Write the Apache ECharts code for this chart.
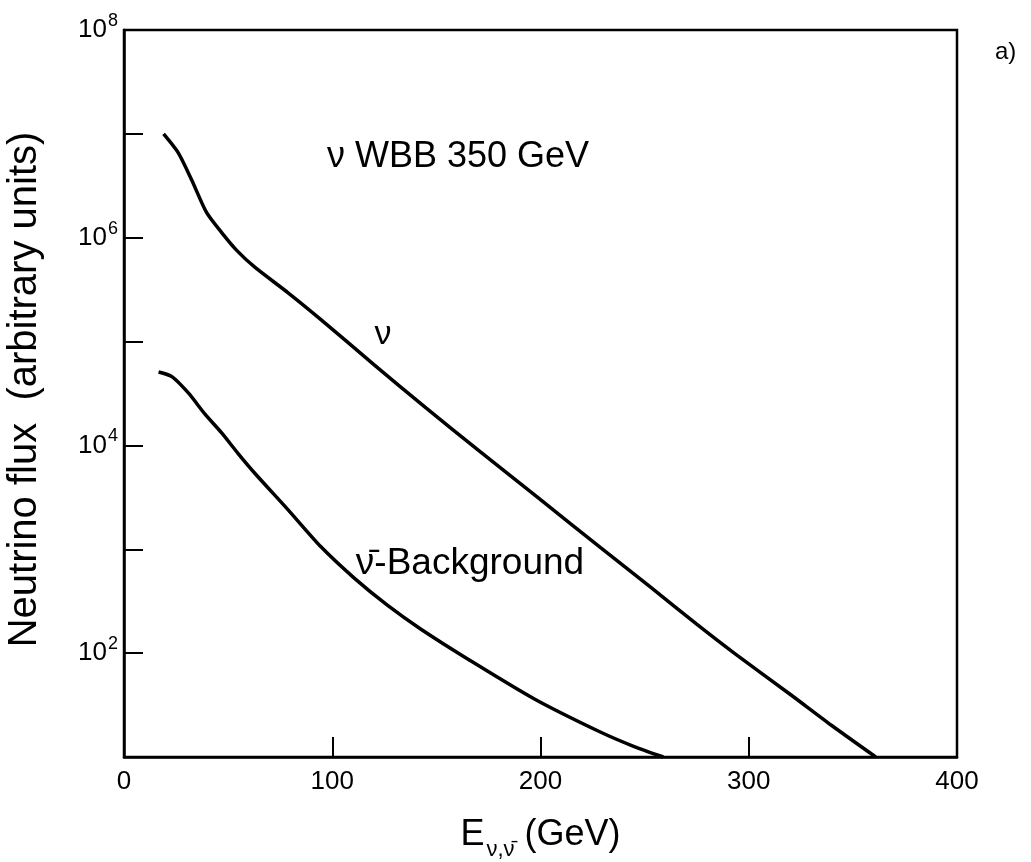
<!DOCTYPE html>
<html>
<head>
<meta charset="utf-8">
<script src="https://cdn.jsdelivr.net/npm/echarts@6/dist/echarts.min.js"></script>
<style>
html,body{margin:0;padding:0;background:#fff;}
#c{width:1031px;height:862px;}
</style>
</head>
<body>
<div id="c"></div>
<script>
// Neutrino (ν) flux, WBB 350 GeV
const nuEnergy = [19, 26, 32.5, 39.7, 46.9, 54, 62.8, 78.8, 94.7, 120, 145, 171, 200, 229, 253, 275, 293, 320, 340, 361];
const nuFlux   = [1.0e7, 6.6e6, 3.6e6, 1.74e6, 1.12e6, 7.6e5, 5.2e5, 2.95e5, 1.62e5, 6.0e4, 2.3e4, 8.7e3, 3.0e3, 1.03e3, 430, 190, 100, 40, 20, 10];
// Anti-neutrino background
const bgEnergy = [16.6, 23, 30.9, 38.9, 46.9, 54.9, 62.8, 78.8, 94.7, 110.7, 126.6, 142.6, 165.4, 197.3, 228.7, 245, 259];
const bgFlux   = [5.1e4, 4.6e4, 3.2e4, 2.0e4, 1.32e4, 8.3e3, 5.4e3, 2.4e3, 1.05e3, 525, 288, 170, 87, 36, 17.4, 12.6, 10];
// axes
const xTicks = [0, 100, 200, 300, 400];
const yLabelExponents = [2, 4, 6, 8];

const FONT = '"Liberation Sans", Arial, "DejaVu Sans", sans-serif';
const chart = echarts.init(document.getElementById('c'), null, {renderer: 'canvas'});

function pairs(xs, ys) { return xs.map((x, i) => [x, ys[i]]); }

const option = {
  backgroundColor: '#fff',
  animation: false,
  grid: {left: 124, right: 74, top: 30, bottom: 105, containLabel: false, outerBoundsMode: 'none',
         show: true, borderColor: '#000', borderWidth: 2.5, backgroundColor: 'transparent'},
  xAxis: {
    type: 'value', min: xTicks[0], max: xTicks[xTicks.length - 1], interval: 100,
    axisLine: {lineStyle: {color: '#000', width: 2.5}},
    axisTick: {inside: true, length: 20, lineStyle: {color: '#000', width: 2}},
    splitLine: {show: false},
    axisLabel: {color: '#000', fontSize: 26, fontFamily: FONT, margin: 12},
    name: '{E|E}{sub|ν,ν̄}{t| (GeV)}',
    nameLocation: 'middle', nameGap: 56,
    nameTextStyle: {
      color: '#000', fontFamily: FONT,
      rich: {
        E: {fontSize: 36, fontFamily: FONT, color: '#000', verticalAlign: 'bottom', lineHeight: 40},
        sub: {fontSize: 22, fontFamily: FONT, color: '#000', verticalAlign: 'bottom', lineHeight: 30, padding: [0, 0, -8, 2]},
        t: {fontSize: 36, fontFamily: FONT, color: '#000', verticalAlign: 'bottom', lineHeight: 40}
      }
    }
  },
  yAxis: {
    type: 'log', logBase: 10, min: 10, max: 1e8, interval: 1,
    axisLine: {lineStyle: {color: '#000', width: 2.5}},
    axisTick: {inside: true, length: 19, lineStyle: {color: '#000', width: 2}},
    minorTick: {show: false},
    splitLine: {show: false},
    axisLabel: {
      color: '#000', margin: 6, fontFamily: FONT,
      formatter: function (v) {
        const e = Math.round(Math.log10(v));
        return yLabelExponents.indexOf(e) >= 0 ? '{b|10}{s|' + e + '}' : '';
      },
      rich: {
        b: {fontSize: 26, fontFamily: FONT, color: '#000'},
        s: {fontSize: 18, fontFamily: FONT, color: '#000', padding: [0, 0, 18, 1]}
      }
    },
    name: 'Neutrino flux  (arbitrary units)',
    nameLocation: 'middle', nameGap: 79,
    nameTextStyle: {color: '#000', fontSize: 40, fontFamily: FONT, padding: [0, 0, 0, 8]}
  },
  series: [
    {
      type: 'line', data: pairs(nuEnergy, nuFlux), smooth: 0.25, showSymbol: false,
      lineStyle: {color: '#000', width: 3.5}
    },
    {
      type: 'line', data: pairs(bgEnergy, bgFlux), smooth: 0.25, showSymbol: false,
      lineStyle: {color: '#000', width: 3.5}
    }
  ],
  graphic: [
    {type: 'text', x: 458, y: 157, style: {text: 'ν WBB 350 GeV', font: '36px ' + FONT, fill: '#000', align: 'center', verticalAlign: 'middle'}},
    {type: 'text', x: 383, y: 335, style: {text: 'ν', font: '34px ' + FONT, fill: '#000', align: 'center', verticalAlign: 'middle'}},
    {type: 'text', x: 470, y: 564, style: {text: 'ν̄-Background', font: '37px ' + FONT, fill: '#000', align: 'center', verticalAlign: 'middle'}},
    {type: 'text', x: 995, y: 52, style: {text: 'a)', font: '24px ' + FONT, fill: '#000', align: 'left', verticalAlign: 'middle'}}
  ]
};
chart.setOption(option);
</script>
</body>
</html>
